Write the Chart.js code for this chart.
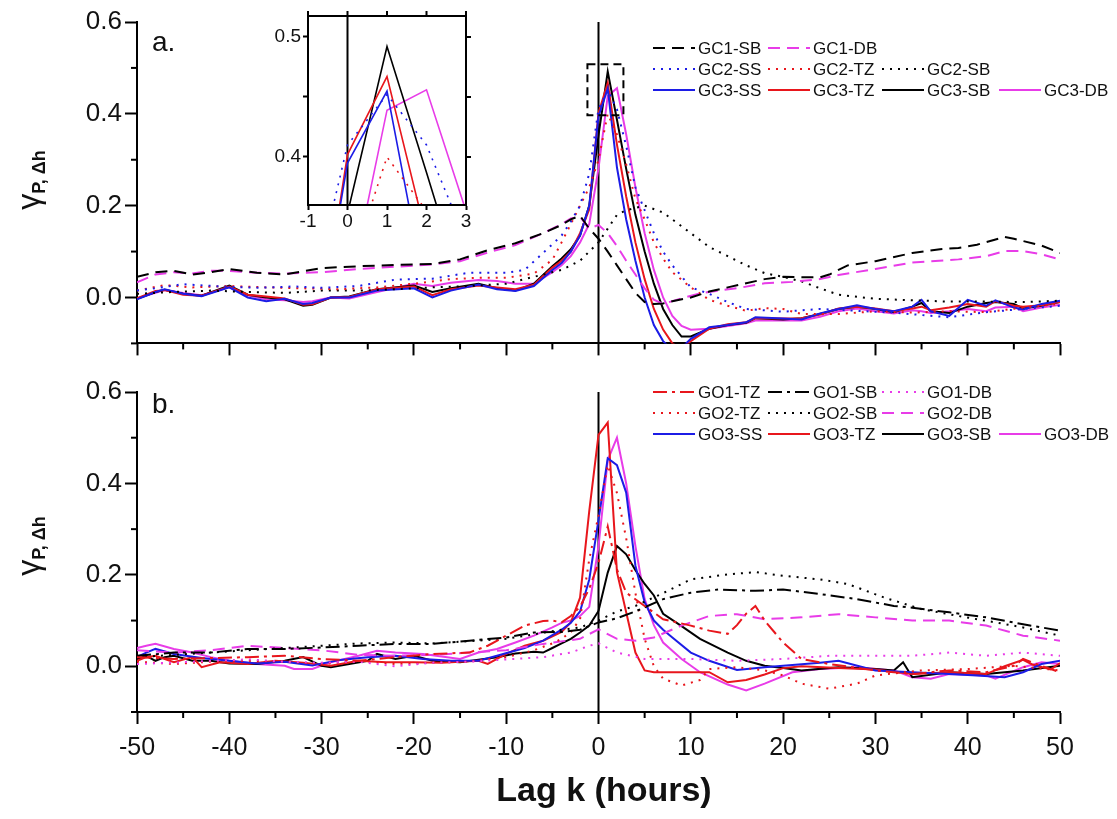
<!DOCTYPE html>
<html>
<head>
<meta charset="utf-8">
<script src="https://cdn.jsdelivr.net/npm/chart.js@4.4.0/dist/chart.umd.min.js"></script>
<style>
  body { margin: 0; background: #fff; font-family: Arial, "Liberation Sans", sans-serif; }
  #wrap { position: relative; width: 1117px; height: 819px; overflow: hidden; }
  canvas { position: absolute; }
  .txt { position: absolute; color: #111; white-space: nowrap; }
  .ytitle { position: absolute; width: 140px; height: 40px; line-height: 40px; text-align: center;
            transform: translate(-50%, -50%) rotate(-90deg); font-size: 32px; color: #111; white-space: nowrap; }
  .ytitle sub { font-size: 18px; font-weight: bold; vertical-align: -6px; }
</style>
</head>
<body>
<div id="wrap">
  <canvas id="panelA" width="1117" height="362" style="left:0;top:0"></canvas>
  <canvas id="panelB" width="1117" height="449" style="left:0;top:370px"></canvas>
  <canvas id="inset" width="240" height="240" style="left:240px;top:0"></canvas>
  <div class="txt" style="left:152px;top:28px;font-size:28px;line-height:28px">a.</div>
  <div class="txt" style="left:152px;top:390px;font-size:28px;line-height:28px">b.</div>
  <div class="ytitle" style="left:28px;top:180px">γ<sub>P, Δh</sub></div>
  <div class="ytitle" style="left:28px;top:546px">γ<sub>P, Δh</sub></div>
  <div class="txt" style="left:454px;top:769px;width:300px;text-align:center;font-size:34px;font-weight:bold;line-height:40px">Lag k (hours)</div>
</div>
<script>
// ---- tick values ----
const xMajor = [-50, -40, -30, -20, -10, 0, 10, 20, 30, 40, 50];
const xMinor = [-45, -35, -25, -15, -5, 5, 15, 25, 35, 45];
const yMajor = [0.0, 0.2, 0.4, 0.6];
const yMinor = [-0.1, 0.1, 0.3, 0.5];
const insetX = [-1, 0, 1, 2, 3];
const insetY = [0.4, 0.45, 0.5];
const insetYLabels = ['0.4', '', '0.5'];
// dashed box in panel a marking the zoomed region
const zoomBoxX = [-1.2, 2.7];
const zoomBoxY = [0.397, 0.508];

// ---- panel a (GC) ----
const gc1sbLag = [-50,-48,-46,-44,-42,-40,-37,-34,-30,-26,-22,-18,-15,-12,-9,-6,-4,-3,-2,-1,0,1,2,3,4,5,6,7,8,10,12,14,16,18,20,22,24,25,27,30,34,37,39,41,44,45,48,50];
const gc1sbVal = [0.045,0.055,0.058,0.05,0.055,0.062,0.054,0.05,0.064,0.068,0.071,0.073,0.083,0.103,0.118,0.14,0.158,0.17,0.178,0.15,0.128,0.1,0.07,0.04,0.01,-0.01,-0.014,-0.013,-0.008,0.0,0.013,0.022,0.031,0.04,0.045,0.044,0.044,0.05,0.07,0.079,0.097,0.105,0.108,0.115,0.132,0.128,0.113,0.097];

const gc1dbLag = [-50,-48,-46,-44,-42,-40,-37,-34,-30,-26,-22,-18,-15,-12,-9,-6,-4,-3,-2,-1,0,1,2,3,4,5,6,7,8,9,11,13,15,18,21,24,26,30,34,39,42,44,46,48,50];
const gc1dbVal = [0.033,0.05,0.055,0.052,0.058,0.058,0.054,0.052,0.055,0.062,0.067,0.072,0.079,0.098,0.114,0.14,0.16,0.172,0.176,0.15,0.158,0.14,0.112,0.08,0.05,0.02,-0.005,-0.014,-0.008,-0.002,0.009,0.015,0.02,0.031,0.034,0.04,0.049,0.062,0.076,0.083,0.09,0.101,0.101,0.094,0.083];

const gc2ssLag = [-50,-48,-45,-41,-37,-33,-30,-26,-22,-18,-14,-10,-8,-6,-4,-3,-2,-1,0,1,2,3,4,5,6,7,8,10,12,14,16,20,24,28,32,36,38,42,46,50];
const gc2ssVal = [0.015,0.02,0.029,0.024,0.021,0.024,0.021,0.025,0.039,0.041,0.054,0.054,0.06,0.097,0.135,0.165,0.2,0.27,0.41,0.452,0.41,0.33,0.24,0.19,0.14,0.1,0.07,0.022,0.008,-0.01,-0.025,-0.031,-0.025,-0.029,-0.033,-0.04,-0.043,-0.032,-0.025,-0.018];

const gc2tzLag = [-50,-47,-44,-40,-36,-32,-28,-24,-20,-16,-13,-10,-7,-5,-4,-3,-2,-1,0,1,2,3,4,5,6,7,8,10,12,14,16,18,20,22,26,30,34,38,42,46,50];
const gc2tzVal = [0.015,0.027,0.022,0.025,0.022,0.02,0.018,0.022,0.03,0.04,0.043,0.043,0.052,0.082,0.12,0.16,0.2,0.24,0.3,0.40,0.355,0.29,0.215,0.17,0.12,0.085,0.055,0.022,-0.005,-0.018,-0.029,-0.023,-0.025,-0.036,-0.036,-0.03,-0.033,-0.03,-0.032,-0.022,-0.014];

const gc2sbLag = [-50,-46,-42,-38,-34,-30,-26,-22,-18,-14,-10,-8,-6,-4,-2,-1,0,1,2,3,5,7,8,10,12,14,16,18,20,22,24,26,30,34,38,42,46,50];
const gc2sbVal = [0.008,0.012,0.015,0.012,0.01,0.015,0.015,0.018,0.022,0.025,0.03,0.04,0.05,0.06,0.08,0.1,0.12,0.15,0.18,0.19,0.2,0.185,0.17,0.14,0.11,0.09,0.07,0.053,0.045,0.035,0.02,0.006,-0.003,-0.006,-0.009,-0.009,-0.01,-0.007];

const gc3Lag = [-50,-48,-47,-45,-43,-40,-38,-36,-34,-32,-31,-29,-27,-24,-20,-18,-16,-13,-11,-9,-7,-5,-4,-3,-2,-1,0,1,2,3,4,5,6,7,8,9,10,12,14,16,17,20,22,24,26,28,30,32,34,35,36,38,40,42,43,45,46,48,50];
const gc3ssVal = [-0.004,0.012,0.018,0.008,0.003,0.022,0.0,-0.008,-0.003,-0.014,-0.012,0.0,0.0,0.015,0.02,0.0,0.015,0.028,0.018,0.014,0.025,0.06,0.075,0.1,0.135,0.2,0.395,0.455,0.283,0.17,0.08,0.0,-0.06,-0.095,-0.115,-0.11,-0.09,-0.065,-0.06,-0.054,-0.043,-0.046,-0.048,-0.035,-0.025,-0.017,-0.025,-0.03,-0.02,-0.005,-0.03,-0.04,-0.005,-0.018,-0.006,-0.022,-0.026,-0.014,-0.007];
const gc3tzVal = [-0.002,0.014,0.016,0.006,0.004,0.024,0.006,0.002,-0.002,-0.016,-0.015,0.0,0.001,0.018,0.024,0.005,0.018,0.026,0.022,0.018,0.028,0.065,0.08,0.1,0.14,0.192,0.402,0.467,0.333,0.22,0.12,0.04,-0.025,-0.07,-0.1,-0.112,-0.095,-0.068,-0.058,-0.054,-0.045,-0.046,-0.045,-0.037,-0.024,-0.02,-0.024,-0.03,-0.024,-0.02,-0.028,-0.022,-0.014,-0.02,-0.008,-0.018,-0.02,-0.017,-0.01];
const gc3sbVal = [-0.003,0.012,0.017,0.008,0.004,0.026,0.006,0.0,-0.004,-0.018,-0.016,0.0,0.002,0.018,0.026,0.012,0.02,0.03,0.02,0.015,0.03,0.068,0.085,0.105,0.135,0.2,0.353,0.492,0.387,0.28,0.18,0.1,0.03,-0.025,-0.06,-0.085,-0.085,-0.068,-0.06,-0.055,-0.045,-0.048,-0.045,-0.036,-0.025,-0.02,-0.025,-0.032,-0.02,-0.012,-0.03,-0.034,-0.02,-0.012,-0.01,-0.014,-0.024,-0.018,-0.01];
const gc3dbVal = [-0.002,0.01,0.016,0.01,0.005,0.022,0.005,-0.004,-0.006,-0.01,-0.008,0.0,-0.002,0.012,0.03,0.025,0.032,0.038,0.036,0.03,0.03,0.055,0.07,0.09,0.12,0.16,0.281,0.439,0.456,0.355,0.24,0.14,0.06,0.0,-0.04,-0.062,-0.07,-0.068,-0.062,-0.056,-0.05,-0.05,-0.05,-0.042,-0.03,-0.024,-0.03,-0.035,-0.028,-0.03,-0.034,-0.03,-0.025,-0.03,-0.022,-0.02,-0.03,-0.022,-0.016];

// ---- panel b (GO) ----
const go1tzLag = [-50,-46,-42,-38,-34,-30,-26,-22,-18,-14,-12,-10,-8,-6,-5,-4,-3,-2,-1,0,1,2,3,5,7,10,12,14,15,16,17,18,20,22,25,30,34,38,42,45,46,48,50];
const go1tzVal = [0.02,0.016,0.018,0.02,0.023,0.016,0.012,0.02,0.027,0.03,0.045,0.067,0.089,0.099,0.1,0.096,0.11,0.13,0.17,0.226,0.306,0.212,0.161,0.132,0.103,0.089,0.078,0.071,0.09,0.115,0.132,0.1,0.052,0.016,0.005,-0.009,-0.017,-0.009,-0.013,0.001,0.016,0.001,-0.013];

const go1sbLag = [-50,-46,-42,-38,-34,-30,-26,-22,-18,-14,-10,-7,-4,-2,0,2,4,7,10,13,17,20,24,28,32,34,38,42,46,50];
const go1sbVal = [0.023,0.03,0.03,0.038,0.038,0.041,0.045,0.049,0.049,0.056,0.063,0.074,0.075,0.08,0.096,0.105,0.12,0.147,0.161,0.168,0.165,0.168,0.158,0.147,0.132,0.128,0.118,0.107,0.092,0.078];

const go1dbLag = [-50,-46,-42,-38,-34,-30,-26,-22,-18,-14,-10,-6,-3,-1,0,2,5,10,15,20,25,30,34,38,42,46,50];
const go1dbVal = [0.005,0.008,0.012,0.015,0.01,0.008,0.01,0.0,0.008,0.01,0.015,0.02,0.03,0.045,0.05,0.03,0.016,0.016,0.012,0.016,0.023,0.023,0.023,0.03,0.023,0.03,0.023];

const go2tzLag = [-50,-46,-42,-38,-34,-30,-26,-22,-18,-14,-10,-7,-5,-4,-3,-2,-1,0,1,2,3,4,5,6,7,9,11,12,15,18,20,22,25,28,30,35,40,45,50];
const go2tzVal = [0.01,0.005,0.01,0.012,0.01,0.005,0.012,0.005,0.008,0.01,0.02,0.035,0.05,0.06,0.075,0.103,0.234,0.33,0.44,0.379,0.28,0.16,0.06,0.0,-0.027,-0.042,-0.03,-0.006,-0.002,-0.009,-0.02,-0.038,-0.049,-0.038,-0.02,-0.009,-0.006,0.001,-0.009];

const go2sbLag = [-50,-46,-42,-38,-34,-30,-26,-22,-18,-14,-10,-7,-4,-2,0,2,4,7,10,14,17,20,24,27,31,35,39,43,46,50];
const go2sbVal = [0.02,0.025,0.03,0.035,0.04,0.045,0.05,0.052,0.05,0.055,0.06,0.07,0.08,0.085,0.1,0.12,0.132,0.16,0.19,0.201,0.206,0.198,0.19,0.18,0.15,0.125,0.11,0.096,0.085,0.067];

const go2dbLag = [-50,-46,-42,-38,-34,-30,-26,-22,-18,-14,-10,-6,-2,0,2,4,6,9,12,15,18,22,26,30,34,38,42,46,50];
const go2dbVal = [0.035,0.03,0.035,0.045,0.04,0.035,0.025,0.023,0.025,0.03,0.035,0.049,0.06,0.081,0.06,0.056,0.063,0.089,0.11,0.114,0.103,0.107,0.114,0.107,0.1,0.1,0.089,0.067,0.056];

const go3ssLag = [-50,-49,-48,-46,-43,-40,-37,-34,-31,-28,-25,-22,-19,-16,-13,-11,-8,-6,-4,-3,-2,-1,0,1,2,3,4,5,6,7,8,10,12,15,18,21,24,26,30,34,38,41,44,46,48,50];
const go3ssVal = [0.02,0.03,0.038,0.027,0.018,0.012,0.006,0.01,0.002,0.014,0.02,0.023,0.016,0.012,0.012,0.023,0.04,0.056,0.08,0.095,0.12,0.19,0.32,0.455,0.44,0.38,0.22,0.14,0.1,0.08,0.063,0.03,0.012,-0.008,-0.002,0.003,0.008,0.012,-0.009,-0.013,-0.017,-0.02,-0.024,-0.013,0.005,0.012];

const go3tzLag = [-50,-49,-48,-46,-44,-43,-41,-38,-35,-32,-29,-26,-23,-20,-17,-13,-12,-10,-8,-6,-4,-3,-2,-1,0,1,2,3,4,5,6,8,10,12,14,16,18,20,22,26,30,34,38,42,44,46,47,49,50];
const go3tzVal = [0.012,0.02,0.023,0.009,0.02,-0.002,0.009,0.005,0.012,0.008,0.001,0.012,0.009,0.009,0.008,0.012,0.005,0.027,0.045,0.056,0.075,0.096,0.15,0.34,0.506,0.533,0.206,0.118,0.03,-0.009,-0.013,-0.013,-0.013,-0.013,-0.035,-0.03,-0.018,-0.004,0.0,-0.004,-0.007,-0.017,-0.013,-0.017,0.0,0.014,0.004,-0.007,0.007];

const go3sbLag = [-50,-49,-48,-47,-46,-44,-42,-40,-37,-34,-32,-30,-29,-27,-25,-24,-22,-20,-18,-15,-11,-9,-7,-6,-5,-4,-3,-2,-1,0,1,2,3,4,5,6,7,9,11,14,16,18,20,22,26,30,32,33,34,38,42,46,50];
const go3sbVal = [0.016,0.023,0.012,0.02,0.023,0.012,0.012,0.006,0.005,0.012,0.02,0.001,-0.002,0.005,0.012,0.027,0.016,0.023,0.012,0.009,0.02,0.028,0.032,0.03,0.04,0.05,0.06,0.074,0.089,0.121,0.205,0.263,0.245,0.21,0.18,0.155,0.115,0.088,0.06,0.03,0.012,0.001,-0.004,-0.009,-0.002,-0.006,-0.009,0.009,-0.024,-0.013,-0.017,-0.009,0.001];

const go3dbLag = [-50,-49,-48,-46,-44,-42,-40,-37,-34,-33,-31,-29,-26,-24,-22,-19,-15,-13,-11,-9,-7,-5,-4,-3,-2,-1,0,1,2,3,4,5,6,7,9,11,14,16,18,21,24,28,32,34,36,38,42,43,46,48,50];
const go3dbVal = [0.04,0.045,0.049,0.038,0.03,0.02,0.012,0.005,0.001,-0.006,-0.006,0.009,0.023,0.034,0.03,0.027,0.016,0.03,0.038,0.052,0.067,0.085,0.095,0.1,0.11,0.13,0.263,0.451,0.5,0.4,0.263,0.147,0.09,0.052,0.016,-0.013,-0.04,-0.053,-0.038,-0.013,-0.006,-0.002,-0.009,-0.024,-0.027,-0.017,-0.02,-0.027,-0.002,0.009,0.005];

// ---- styles ----
const COLORS = { black: '#000000', blue: '#1c1ce6', red: '#e8161c', magenta: '#e83ce8' };
const DASHES = { solid: [], dash: [12, 7], dot: [2, 6], dashdot: [14, 5, 3, 5] };

const seriesA = [
  { label: 'GC1-SB', lag: gc1sbLag, val: gc1sbVal, color: 'black', dash: 'dash', row: 0, col: 0 },
  { label: 'GC1-DB', lag: gc1dbLag, val: gc1dbVal, color: 'magenta', dash: 'dash', row: 0, col: 1 },
  { label: 'GC2-SS', lag: gc2ssLag, val: gc2ssVal, color: 'blue', dash: 'dot', row: 1, col: 0 },
  { label: 'GC2-TZ', lag: gc2tzLag, val: gc2tzVal, color: 'red', dash: 'dot', row: 1, col: 1 },
  { label: 'GC2-SB', lag: gc2sbLag, val: gc2sbVal, color: 'black', dash: 'dot', row: 1, col: 2 },
  { label: 'GC3-SS', lag: gc3Lag, val: gc3ssVal, color: 'blue', dash: 'solid', row: 2, col: 0 },
  { label: 'GC3-TZ', lag: gc3Lag, val: gc3tzVal, color: 'red', dash: 'solid', row: 2, col: 1 },
  { label: 'GC3-SB', lag: gc3Lag, val: gc3sbVal, color: 'black', dash: 'solid', row: 2, col: 2 },
  { label: 'GC3-DB', lag: gc3Lag, val: gc3dbVal, color: 'magenta', dash: 'solid', row: 2, col: 3 }
];

const seriesB = [
  { label: 'GO1-TZ', lag: go1tzLag, val: go1tzVal, color: 'red', dash: 'dashdot', row: 0, col: 0 },
  { label: 'GO1-SB', lag: go1sbLag, val: go1sbVal, color: 'black', dash: 'dashdot', row: 0, col: 1 },
  { label: 'GO1-DB', lag: go1dbLag, val: go1dbVal, color: 'magenta', dash: 'dot', row: 0, col: 2 },
  { label: 'GO2-TZ', lag: go2tzLag, val: go2tzVal, color: 'red', dash: 'dot', row: 1, col: 0 },
  { label: 'GO2-SB', lag: go2sbLag, val: go2sbVal, color: 'black', dash: 'dot', row: 1, col: 1 },
  { label: 'GO2-DB', lag: go2dbLag, val: go2dbVal, color: 'magenta', dash: 'dash', row: 1, col: 2 },
  { label: 'GO3-SS', lag: go3ssLag, val: go3ssVal, color: 'blue', dash: 'solid', row: 2, col: 0 },
  { label: 'GO3-TZ', lag: go3tzLag, val: go3tzVal, color: 'red', dash: 'solid', row: 2, col: 1 },
  { label: 'GO3-SB', lag: go3sbLag, val: go3sbVal, color: 'black', dash: 'solid', row: 2, col: 2 },
  { label: 'GO3-DB', lag: go3dbLag, val: go3dbVal, color: 'magenta', dash: 'solid', row: 2, col: 3 }
];

Chart.defaults.font.family = 'Arial, "Liberation Sans", sans-serif';

function pts(lags, vals) {
  return lags.map((x, i) => ({ x: x, y: vals[i] }));
}

function toDatasets(series, width) {
  return series.map(s => ({
    label: s.label,
    data: pts(s.lag, s.val),
    borderColor: COLORS[s.color],
    borderDash: DASHES[s.dash],
    borderWidth: width,
    pointRadius: 0,
    tension: 0,
    fill: false
  }));
}

function line(ctx, x1, y1, x2, y2) {
  ctx.beginPath(); ctx.moveTo(x1, y1); ctx.lineTo(x2, y2); ctx.stroke();
}

// minor ticks, zero line, legend, zoom box
const panelDecor = {
  id: 'panelDecor',
  beforeDatasetsDraw(chart) {
    const { ctx, scales: { x }, chartArea: a } = chart;
    ctx.save();
    ctx.strokeStyle = '#000'; ctx.lineWidth = 2;
    const px = x.getPixelForValue(0);
    line(ctx, px, a.top, px, a.bottom);
    ctx.restore();
  },
  afterDraw(chart, args, o) {
    const { ctx, scales: { x, y }, chartArea: a } = chart;
    ctx.save();
    ctx.strokeStyle = '#000'; ctx.lineWidth = 2;
    xMinor.forEach(v => { const p = x.getPixelForValue(v); line(ctx, p, a.bottom, p, a.bottom + 6); });
    yMinor.forEach(v => { const p = y.getPixelForValue(v); line(ctx, a.left, p, a.left - 6, p); });

    if (o.box) {
      ctx.setLineDash([8, 5]);
      const x1 = x.getPixelForValue(zoomBoxX[0]), x2 = x.getPixelForValue(zoomBoxX[1]);
      const y1 = y.getPixelForValue(zoomBoxY[1]), y2 = y.getPixelForValue(zoomBoxY[0]);
      ctx.strokeRect(x1, y1, x2 - x1, y2 - y1);
      ctx.setLineDash([]);
    }

    // legend
    ctx.font = '17px Arial, "Liberation Sans", sans-serif';
    ctx.textBaseline = 'middle';
    ctx.fillStyle = '#111';
    o.items.forEach(s => {
      const sx = o.colX[s.col], sy = o.rowY[s.row];
      ctx.strokeStyle = COLORS[s.color];
      ctx.setLineDash(DASHES[s.dash]);
      line(ctx, sx, sy, sx + 42, sy);
      ctx.setLineDash([]);
      ctx.fillText(s.label, sx + 45, sy + 1);
    });
    ctx.restore();
  }
};

function buildPanel(id, series, o) {
  return new Chart(document.getElementById(id), {
    type: 'line',
    data: { datasets: toDatasets(series, 2) },
    options: {
      responsive: false, animation: false, events: [],
      layout: { padding: { top: 22, right: 57, left: 0, bottom: 0 } },
      plugins: {
        legend: { display: false }, tooltip: { enabled: false },
        panelDecor: { items: series, colX: [653, 768, 882, 999], rowY: o.rowY, box: o.box }
      },
      scales: {
        x: {
          type: 'linear', min: -50, max: 50,
          afterFit(s) { s.height = o.xh; },
          afterBuildTicks(s) { s.ticks = xMajor.map(v => ({ value: v })); },
          ticks: { display: o.xLabels, font: { size: 25 }, color: '#111', padding: 9, maxRotation: 0, autoSkip: false,
                   callback: v => String(v) },
          grid: { drawOnChartArea: false, drawTicks: true, tickLength: 12, tickColor: '#000', tickWidth: 2 },
          border: { display: true, color: '#000', width: 2 }
        },
        y: {
          type: 'linear', min: -0.1, max: 0.6,
          afterFit(s) { s.width = 137; },
          afterBuildTicks(s) { s.ticks = yMajor.map(v => ({ value: v })); },
          ticks: { font: { size: 26 }, color: '#111', padding: 3, callback: v => v.toFixed(1) },
          grid: { drawOnChartArea: false, drawTicks: true, tickLength: 12, tickColor: '#000', tickWidth: 2 },
          border: { display: true, color: '#000', width: 2 }
        }
      }
    },
    plugins: [panelDecor]
  });
}

buildPanel('panelA', seriesA, { xh: 13, xLabels: false, rowY: [48, 69, 90], box: true });
buildPanel('panelB', seriesB, { xh: 107, xLabels: true, rowY: [22, 43, 64], box: false });

// ---- inset: zoom of the panel a peak ----
const insetFrame = {
  id: 'insetFrame',
  beforeDatasetsDraw(chart) {
    const { ctx, scales: { x }, chartArea: a } = chart;
    ctx.save(); ctx.strokeStyle = '#000'; ctx.lineWidth = 2;
    const px = x.getPixelForValue(0);
    line(ctx, px, a.top, px, a.bottom);
    ctx.restore();
  },
  afterDraw(chart) {
    const { ctx, scales: { x, y }, chartArea: a } = chart;
    ctx.save(); ctx.strokeStyle = '#000'; ctx.lineWidth = 2;
    ctx.strokeRect(a.left, a.top, a.right - a.left, a.bottom - a.top);
    insetX.forEach(v => { const p = x.getPixelForValue(v); line(ctx, p, a.top, p, a.top - 5); });
    insetY.forEach(v => { const p = y.getPixelForValue(v); line(ctx, a.right, p, a.right + 5, p); });
    ctx.restore();
  }
};

new Chart(document.getElementById('inset'), {
  type: 'line',
  data: { datasets: toDatasets(seriesA, 1.6) },
  options: {
    responsive: false, animation: false, events: [],
    layout: { padding: { top: 16, right: 14, left: 0, bottom: 0 } },
    plugins: { legend: { display: false }, tooltip: { enabled: false } },
    scales: {
      x: {
        type: 'linear', min: -1, max: 3,
        afterFit(s) { s.height = 35; },
        afterBuildTicks(s) { s.ticks = insetX.map(v => ({ value: v })); },
        ticks: { font: { size: 19 }, color: '#111', padding: 0, maxRotation: 0, autoSkip: false, callback: v => String(v) },
        grid: { drawOnChartArea: false, drawTicks: true, tickLength: 5, tickColor: '#000', tickWidth: 2 },
        border: { display: true, color: '#000', width: 2 }
      },
      y: {
        type: 'linear', min: 0.36, max: 0.5175,
        afterFit(s) { s.width = 68; },
        afterBuildTicks(s) { s.ticks = insetY.map(v => ({ value: v })); },
        ticks: { font: { size: 19 }, color: '#111', padding: 2, callback: (v, i) => insetYLabels[i] },
        grid: { drawOnChartArea: false, drawTicks: true, tickLength: 5, tickColor: '#000', tickWidth: 2 },
        border: { display: true, color: '#000', width: 2 }
      }
    }
  },
  plugins: [insetFrame]
});
</script>
</body>
</html>
